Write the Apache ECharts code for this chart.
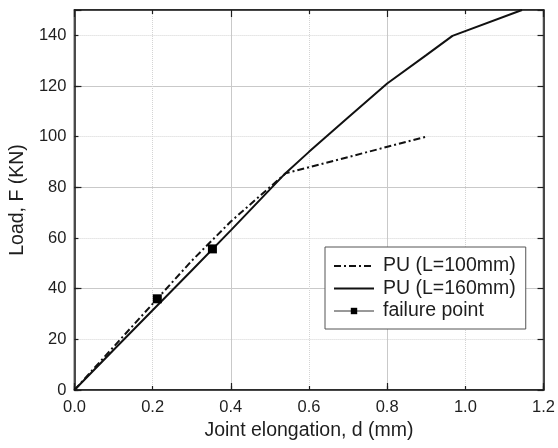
<!DOCTYPE html>
<html>
<head>
<meta charset="utf-8">
<script src="https://cdn.jsdelivr.net/npm/echarts@6/dist/echarts.min.js"></script>
<style>
  html, body { margin: 0; padding: 0; background: #fff; }
  #chart { width: 558px; height: 448px; }
</style>
</head>
<body>
<div id="chart"></div>
<script>
// Load–elongation curves for the two PU joint lengths
const seriesNames = ['PU (L=100mm)', 'PU (L=160mm)', 'failure point'];

const pu100 = [
  [0, 0], [0.1, 17], [0.2, 34], [0.3, 51], [0.4, 66.5], [0.54, 85.5], [0.9, 100]
];
const pu160 = [
  [0, 0], [0.1, 15.8], [0.2, 31.5], [0.3, 47.2], [0.4, 63], [0.54, 85.6],
  [0.6, 94], [0.7, 107.6], [0.8, 121], [0.9, 132.2], [0.967, 139.8], [1.145, 150]
];
const failurePoints = [[0.212, 36], [0.353, 55.7]];

const xTicks = { min: 0, max: 1.2, step: 0.2 };
const yTicks = { min: 0, max: 150, step: 20 };

const FONT = '"Liberation Sans", Arial, Helvetica, sans-serif';
const INK = '#1e1e1e';
const GRID_SOLID = '#c9c9c9';
const GRID_DOT = '#d4d4d4';

const chart = echarts.init(document.getElementById('chart'), null, { renderer: 'canvas' });

const hidden = { show: false };

chart.setOption({
  animation: false,
  backgroundColor: '#fff',
  textStyle: { fontFamily: FONT },
  grid: {
    left: 73, right: 13, top: 10, bottom: 58,
    show: true, borderColor: INK, borderWidth: 1.5, backgroundColor: 'transparent'
  },
  xAxis: [
    {
      type: 'value', position: 'bottom',
      min: xTicks.min, max: xTicks.max, interval: xTicks.step,
      name: 'Joint elongation, d (mm)', nameLocation: 'middle', nameGap: 17,
      nameTextStyle: { fontSize: 19.5, color: INK, fontFamily: FONT },
      axisLine: { show: true, onZero: false, lineStyle: { color: INK, width: 1.5 } },
      axisTick: { show: true, inside: true, length: 4, lineStyle: { color: INK, width: 1.2 } },
      axisLabel: { fontSize: 16.5, color: INK, margin: 9, fontFamily: FONT,
        formatter: v => v.toFixed(1) },
      splitLine: { show: true, lineStyle: { color: GRID_DOT, type: 'dotted', width: 1 } }
    },
    {
      type: 'value', position: 'bottom',
      min: xTicks.min, max: xTicks.max, interval: xTicks.step * 2,
      axisLine: hidden, axisLabel: hidden,
      axisTick: { show: true, inside: true, length: 7, lineStyle: { color: INK, width: 1.2 } },
      splitLine: { show: true, lineStyle: { color: GRID_SOLID, type: 'solid', width: 1 } }
    },
    {
      type: 'value', position: 'top',
      min: xTicks.min, max: xTicks.max, interval: xTicks.step * 2,
      axisLine: { show: true, onZero: false, lineStyle: { color: INK, width: 1.5 } },
      axisLabel: hidden,
      axisTick: { show: true, inside: true, length: 7, lineStyle: { color: INK, width: 1.2 } },
      minorTick: { show: true, splitNumber: 2, length: 4, lineStyle: { color: INK, width: 1.2 } },
      splitLine: hidden
    }
  ],
  yAxis: [
    {
      type: 'value', position: 'left',
      min: yTicks.min, max: yTicks.max, interval: yTicks.step,
      name: 'Load, F (KN)', nameLocation: 'middle', nameGap: 37,
      nameTextStyle: { fontSize: 19.5, color: INK, fontFamily: FONT },
      axisLine: { show: true, onZero: false, lineStyle: { color: INK, width: 1.5 } },
      axisTick: { show: true, inside: true, length: 4, lineStyle: { color: INK, width: 1.2 } },
      axisLabel: { fontSize: 16.5, color: INK, margin: 8, showMaxLabel: false, fontFamily: FONT },
      splitLine: { show: true, lineStyle: { color: GRID_DOT, type: 'dotted', width: 1 } }
    },
    {
      type: 'value', position: 'left',
      min: yTicks.min, max: yTicks.max, interval: yTicks.step * 2,
      axisLine: hidden, axisLabel: hidden,
      axisTick: { show: true, inside: true, length: 7, lineStyle: { color: INK, width: 1.2 } },
      splitLine: { show: true, lineStyle: { color: GRID_SOLID, type: 'solid', width: 1 } }
    },
    {
      type: 'value', position: 'right',
      min: yTicks.min, max: yTicks.max, interval: yTicks.step,
      axisLine: { show: true, onZero: false, lineStyle: { color: INK, width: 1.5 } },
      axisLabel: hidden,
      axisTick: { show: true, inside: true, length: 6, lineStyle: { color: INK, width: 1.2 } },
      splitLine: hidden
    }
  ],
  legend: {
    orient: 'vertical',
    left: 325, top: 247,
    padding: [9, 10, 8, 8],
    itemWidth: 40, itemHeight: 8, itemGap: 2.5,
    backgroundColor: '#fff',
    borderColor: '#555', borderWidth: 1, borderRadius: 0,
    textStyle: { fontSize: 19.5, color: INK, fontFamily: FONT, lineHeight: 20, padding: [0, 0, 0, 4] },
    data: [
      { name: seriesNames[0], itemStyle: { opacity: 0 } },
      { name: seriesNames[1], itemStyle: { opacity: 0 } },
      { name: seriesNames[2],
        lineStyle: { width: 1, color: '#333', opacity: 1, type: 'solid' },
        itemStyle: { color: '#000' } }
    ]
  },
  series: [
    {
      name: seriesNames[0], type: 'line', data: pu100,
      symbol: 'none', clip: true, z: 3,
      lineStyle: { color: '#111', width: 2, type: [7, 3, 2, 3] },
      itemStyle: { color: '#111' }
    },
    {
      name: seriesNames[1], type: 'line', data: pu160,
      symbol: 'none', clip: true, z: 3,
      lineStyle: { color: '#111', width: 2 },
      itemStyle: { color: '#111' }
    },
    {
      name: seriesNames[2], type: 'line', data: failurePoints,
      symbol: 'rect', symbolSize: 9, z: 5,
      lineStyle: { width: 0, opacity: 0 },
      itemStyle: { color: '#000' }
    }
  ]
});
</script>
</body>
</html>
